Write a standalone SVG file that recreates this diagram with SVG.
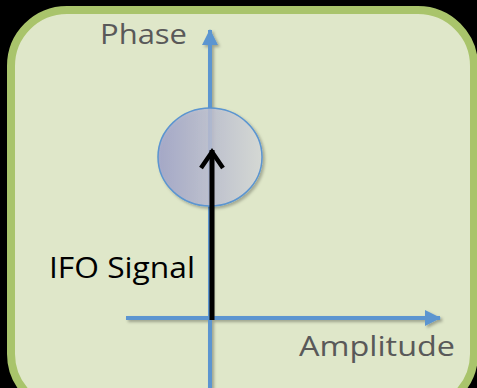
<svg xmlns="http://www.w3.org/2000/svg" width="477" height="388" viewBox="0 0 477 388">
<style>
.axis{stroke:#5b95d0;stroke-width:4;fill:none}
.lbl{font-family:"Open Sans","Liberation Sans",sans-serif;font-size:28px;fill:#595959}
</style>
<defs>
<linearGradient id="g" x1="0" y1="0" x2="1" y2="0">
<stop offset="0" stop-color="#a0a3ca"/>
<stop offset="1" stop-color="#d8dbd9"/>
</linearGradient>
<filter id="sh" x="-20%" y="-20%" width="140%" height="140%">
<feDropShadow dx="2" dy="2" stdDeviation="1.5" flood-color="#000" flood-opacity="0.3"/>
</filter>
<marker id="ab" markerUnits="userSpaceOnUse" markerWidth="18" markerHeight="18" refX="15" refY="8" orient="auto">
<path d="M0,0 L16,8 L0,16 Z" fill="#5b95d0"/>
</marker>
</defs>
<rect width="477" height="388" fill="#000"/>
<g id="frame">
<rect x="11" y="10" width="463" height="400" rx="56" ry="56" fill="#dfe7c9" stroke="#a9c46b" stroke-width="8"/>
</g>
<g id="connectors" filter="url(#sh)">
<line class="axis" x1="210" y1="388" x2="210" y2="30" marker-end="url(#ab)"/>
<line class="axis" x1="126" y1="318" x2="440" y2="318" marker-end="url(#ab)"/>
</g>
<g id="circle">
<ellipse cx="210" cy="157" rx="52" ry="49" fill="url(#g)" fill-opacity="0.85" stroke="#5b95d0" stroke-width="1.5" filter="url(#sh)"/>
</g>
<g id="signal">
<line x1="212" y1="320" x2="212" y2="150" stroke="#000" stroke-width="5"/>
<polyline points="201,168 212,152 223,168" fill="none" stroke="#000" stroke-width="4.5"/>
</g>
<g id="labels">
<text class="lbl" x="100" y="44" textLength="87" lengthAdjust="spacingAndGlyphs">Phase</text>
<text class="lbl" x="299" y="356" textLength="156" lengthAdjust="spacingAndGlyphs">Amplitude</text>
<text class="lbl" x="49" y="278" textLength="146" lengthAdjust="spacingAndGlyphs" style="fill:#000;font-size:30px">IFO Signal</text>
</g>
</svg>
